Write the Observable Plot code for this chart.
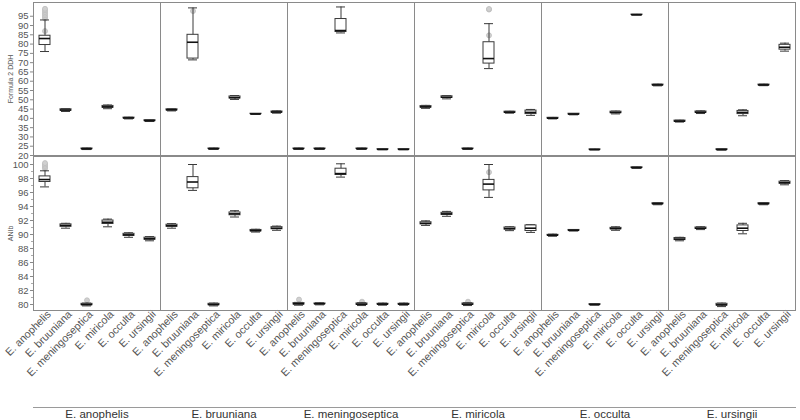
<!DOCTYPE html>
<html>
<head>
<meta charset="utf-8">
<script src="https://cdn.jsdelivr.net/npm/d3@7"></script>
<script src="https://cdn.jsdelivr.net/npm/@observablehq/plot@0.6"></script>
<style>
  html, body { margin: 0; padding: 0; background: #fff; }
  #chart svg { display: block; overflow: visible; }
</style>
</head>
<body>
<div id="chart"></div>
<script>
// Species (facet = reference species, x = query species)
const species = ["E. anophelis", "E. bruuniana", "E. meningoseptica", "E. miricola", "E. occulta", "E. ursingii"];

// Formula 2 DDH box statistics: rows = facet, columns = query species
const ddhMin = [
  [76.0, 43.7, 23.2, 45.2, 39.7, 38.3],
  [44.0, 71.5, 23.3, 50.2, 42.1, 42.8],
  [23.3, 23.3, 86.0, 23.3, 23.1, 23.1],
  [45.4, 50.5, 23.3, 66.8, 42.8, 41.6],
  [39.7, 41.9, 23.0, 42.4, 95.6, 57.5],
  [38.0, 42.6, 22.9, 41.4, 57.6, 76.2]
];
const ddhQ1 = [
  [79.5, 44.1, 23.4, 45.7, 40.0, 38.5],
  [44.3, 72.2, 23.5, 50.7, 42.3, 43.1],
  [23.5, 23.5, 86.5, 23.5, 23.2, 23.2],
  [45.8, 51.0, 23.5, 69.5, 43.0, 42.3],
  [39.9, 42.1, 23.1, 42.8, 95.7, 57.8],
  [38.2, 43.0, 23.0, 42.3, 57.8, 77.0]
];
const ddhMed = [
  [83.0, 44.5, 23.6, 46.2, 40.2, 38.8],
  [44.6, 81.0, 23.6, 51.2, 42.4, 43.4],
  [23.6, 23.6, 87.3, 23.6, 23.3, 23.3],
  [46.2, 51.4, 23.6, 72.2, 43.3, 43.2],
  [40.1, 42.3, 23.2, 43.2, 95.8, 58.0],
  [38.5, 43.3, 23.2, 43.2, 58.0, 78.3]
];
const ddhQ3 = [
  [84.5, 44.9, 23.8, 46.7, 40.4, 39.0],
  [44.9, 85.0, 23.8, 51.8, 42.5, 43.7],
  [23.8, 23.8, 93.5, 23.8, 23.4, 23.4],
  [46.6, 51.9, 23.8, 81.0, 43.6, 44.2],
  [40.3, 42.5, 23.3, 43.6, 95.9, 58.2],
  [38.8, 43.7, 23.4, 44.0, 58.2, 79.6]
];
const ddhMax = [
  [93.0, 45.3, 24.0, 47.2, 40.6, 39.2],
  [45.2, 99.5, 24.0, 52.3, 42.6, 44.0],
  [24.0, 24.0, 100.0, 24.0, 23.5, 23.5],
  [47.0, 52.3, 24.0, 91.0, 43.8, 44.8],
  [40.5, 42.6, 23.4, 43.9, 96.0, 58.4],
  [39.0, 44.0, 23.5, 44.6, 58.4, 80.5]
];
// DDH outliers: [facet, query, value]
const ddhOutliers = [
  ["E. anophelis", "E. anophelis", 93.8], ["E. anophelis", "E. anophelis", 94.6],
  ["E. anophelis", "E. anophelis", 95.5], ["E. anophelis", "E. anophelis", 96.4],
  ["E. anophelis", "E. anophelis", 97.3], ["E. anophelis", "E. anophelis", 98.2],
  ["E. anophelis", "E. anophelis", 99.0], ["E. anophelis", "E. anophelis", 87.0],
  ["E. miricola", "E. miricola", 98.6], ["E. miricola", "E. miricola", 98.9],
  ["E. miricola", "E. miricola", 84.7], ["E. bruuniana", "E. bruuniana", 97.8]
];

// ANIb box statistics
const aniMin = [
  [96.8, 90.9, 79.8, 91.1, 89.6, 89.1],
  [90.9, 96.3, 79.8, 92.5, 90.35, 90.6],
  [79.9, 79.95, 98.2, 79.85, 79.9, 79.9],
  [91.3, 92.6, 79.85, 95.3, 90.55, 90.3],
  [89.75, 90.5, 79.9, 90.6, 99.45, 94.25],
  [89.1, 90.7, 79.7, 90.1, 94.25, 97.1]
];
const aniQ1 = [
  [97.5, 91.1, 79.9, 91.5, 89.8, 89.25],
  [91.1, 96.6, 79.9, 92.75, 90.45, 90.75],
  [80.0, 80.05, 98.5, 79.95, 80.0, 80.0],
  [91.45, 92.8, 79.95, 96.3, 90.7, 90.5],
  [89.85, 90.55, 79.95, 90.75, 99.5, 94.33],
  [89.2, 90.8, 79.85, 90.5, 94.32, 97.25]
];
const aniMed = [
  [97.85, 91.3, 80.0, 91.75, 89.95, 89.4],
  [91.25, 97.5, 80.0, 92.95, 90.55, 90.9],
  [80.1, 80.1, 98.7, 80.05, 80.05, 80.05],
  [91.6, 92.95, 80.05, 97.2, 90.85, 90.9],
  [89.9, 90.6, 80.0, 90.85, 99.55, 94.4],
  [89.35, 90.9, 79.95, 90.9, 94.4, 97.4]
];
const aniQ3 = [
  [98.3, 91.45, 80.1, 92.0, 90.1, 89.55],
  [91.4, 98.2, 80.1, 93.15, 90.65, 91.05],
  [80.2, 80.15, 99.4, 80.15, 80.1, 80.1],
  [91.75, 93.1, 80.15, 97.8, 91.0, 91.3],
  [89.95, 90.65, 80.05, 90.95, 99.6, 94.47],
  [89.5, 91.0, 80.1, 91.3, 94.48, 97.55]
];
const aniMax = [
  [99.1, 91.6, 80.2, 92.2, 90.25, 89.7],
  [91.55, 100.0, 80.2, 93.4, 90.75, 91.2],
  [80.3, 80.25, 100.1, 80.25, 80.2, 80.2],
  [91.95, 93.3, 80.25, 100.0, 91.1, 91.4],
  [90.05, 90.7, 80.1, 91.1, 99.65, 94.55],
  [89.6, 91.1, 80.2, 91.6, 94.55, 97.7]
];
const aniOutliers = [
  ["E. anophelis", "E. anophelis", 99.4], ["E. anophelis", "E. anophelis", 99.6],
  ["E. anophelis", "E. anophelis", 99.8], ["E. anophelis", "E. anophelis", 100.0],
  ["E. anophelis", "E. anophelis", 100.2], ["E. anophelis", "E. meningoseptica", 80.6],
  ["E. meningoseptica", "E. anophelis", 80.7], ["E. meningoseptica", "E. miricola", 80.4],
  ["E. miricola", "E. meningoseptica", 80.4], ["E. miricola", "E. miricola", 98.9]
];

// Tick values
const ddhTicks = [20, 25, 30, 35, 40, 45, 50, 55, 60, 65, 70, 75, 80, 85, 90, 95];
const aniTicks = [80, 82, 84, 86, 88, 90, 92, 94, 96, 98, 100];
const aniMinorTicks = [81, 83, 85, 87, 89, 91, 93, 95, 97, 99];

function buildStats(mn, q1, md, q3, mx) {
  const rows = [];
  species.forEach((f, i) => species.forEach((q, j) => {
    rows.push({fx: f, x: q, min: mn[i][j], q1: q1[i][j], med: md[i][j], q3: q3[i][j], max: mx[i][j]});
  }));
  return rows;
}
const ddhStats = buildStats(ddhMin, ddhQ1, ddhMed, ddhQ3, ddhMax);
const aniStats = buildStats(aniMin, aniQ1, aniMed, aniQ3, aniMax);
const toPts = arr => arr.map(([f, q, v]) => ({fx: f, x: q, v}));

const boxColor = "#3a3a3a";
function boxMarks(stats, outliers) {
  return [
    Plot.frame({stroke: "#8a8a8a"}),
    Plot.dot(toPts(outliers), {fx: "fx", x: "x", y: "v", r: 2.5, fill: "#d0d0d0", stroke: "#bdbdbd", strokeWidth: 0.8}),
    Plot.ruleX(stats, {fx: "fx", x: "x", y1: "min", y2: "max", stroke: boxColor, strokeWidth: 1}),
    Plot.tickY(stats, {fx: "fx", x: "x", y: "min", stroke: boxColor, insetLeft: 6, insetRight: 6}),
    Plot.tickY(stats, {fx: "fx", x: "x", y: "max", stroke: boxColor, insetLeft: 6, insetRight: 6}),
    Plot.barY(stats, {fx: "fx", x: "x", y1: "q1", y2: "q3", fill: "white", stroke: boxColor, strokeWidth: 1, insetLeft: 5, insetRight: 5}),
    Plot.tickY(stats, {fx: "fx", x: "x", y: "med", stroke: "#111", strokeWidth: 1.6, insetLeft: 5, insetRight: 5})
  ];
}

const style = {fontFamily: "'Liberation Sans', Arial, sans-serif", fontSize: "10px", color: "#555", background: "transparent", overflow: "visible"};

const ddhPlot = Plot.plot({
  width: 800, height: 156,
  marginLeft: 30, marginRight: 3, marginTop: 2, marginBottom: 1,
  style,
  fx: {domain: species, padding: 0, axis: null},
  x: {domain: species, padding: 0, axis: null},
  y: {domain: [20, 102.4], axis: null},
  marks: [
    Plot.axisY({ticks: ddhTicks, tickSize: 3, tickPadding: 2, fontSize: 9.5, label: null, stroke: "#888", fill: "#555"}),
    Plot.axisY({ticks: [], label: "Formula 2 DDH", labelAnchor: "center", labelArrow: "none", labelOffset: 25, fontSize: 7}),
    ...boxMarks(ddhStats, ddhOutliers)
  ]
});

const aniPlot = Plot.plot({
  width: 800, height: 264,
  marginLeft: 30, marginRight: 3, marginTop: 0, marginBottom: 110,
  style,
  fx: {domain: species, padding: 0, axis: null},
  x: {domain: species, padding: 0, axis: null},
  y: {domain: [79.143, 101.143], axis: null},
  marks: [
    Plot.axisY({ticks: aniTicks, tickSize: 3, tickPadding: 2, fontSize: 9.5, label: null, stroke: "#888", fill: "#555"}),
    Plot.axisY({ticks: aniMinorTicks, tickSize: 2, text: null, label: null, stroke: "#aaa"}),
    Plot.axisY({ticks: [], label: "ANIb", labelAnchor: "center", labelArrow: "none", labelOffset: 25, fontSize: 7}),
    Plot.axisX({tickRotate: -45, tickSize: 0, tickPadding: 3, dx: 4, dy: -1, fontSize: 10.7, label: null, fill: "#555"}),
    Plot.axisFx({anchor: "bottom", tickSize: 0, tickPadding: 99, fontSize: 11.5, label: null, fill: "#333"}),
    Plot.frame({anchor: "bottom", dy: 97, stroke: "#9a9a9a"}),
    ...boxMarks(aniStats, aniOutliers)
  ]
});

document.getElementById("chart").append(ddhPlot, aniPlot);
</script>
</body>
</html>
